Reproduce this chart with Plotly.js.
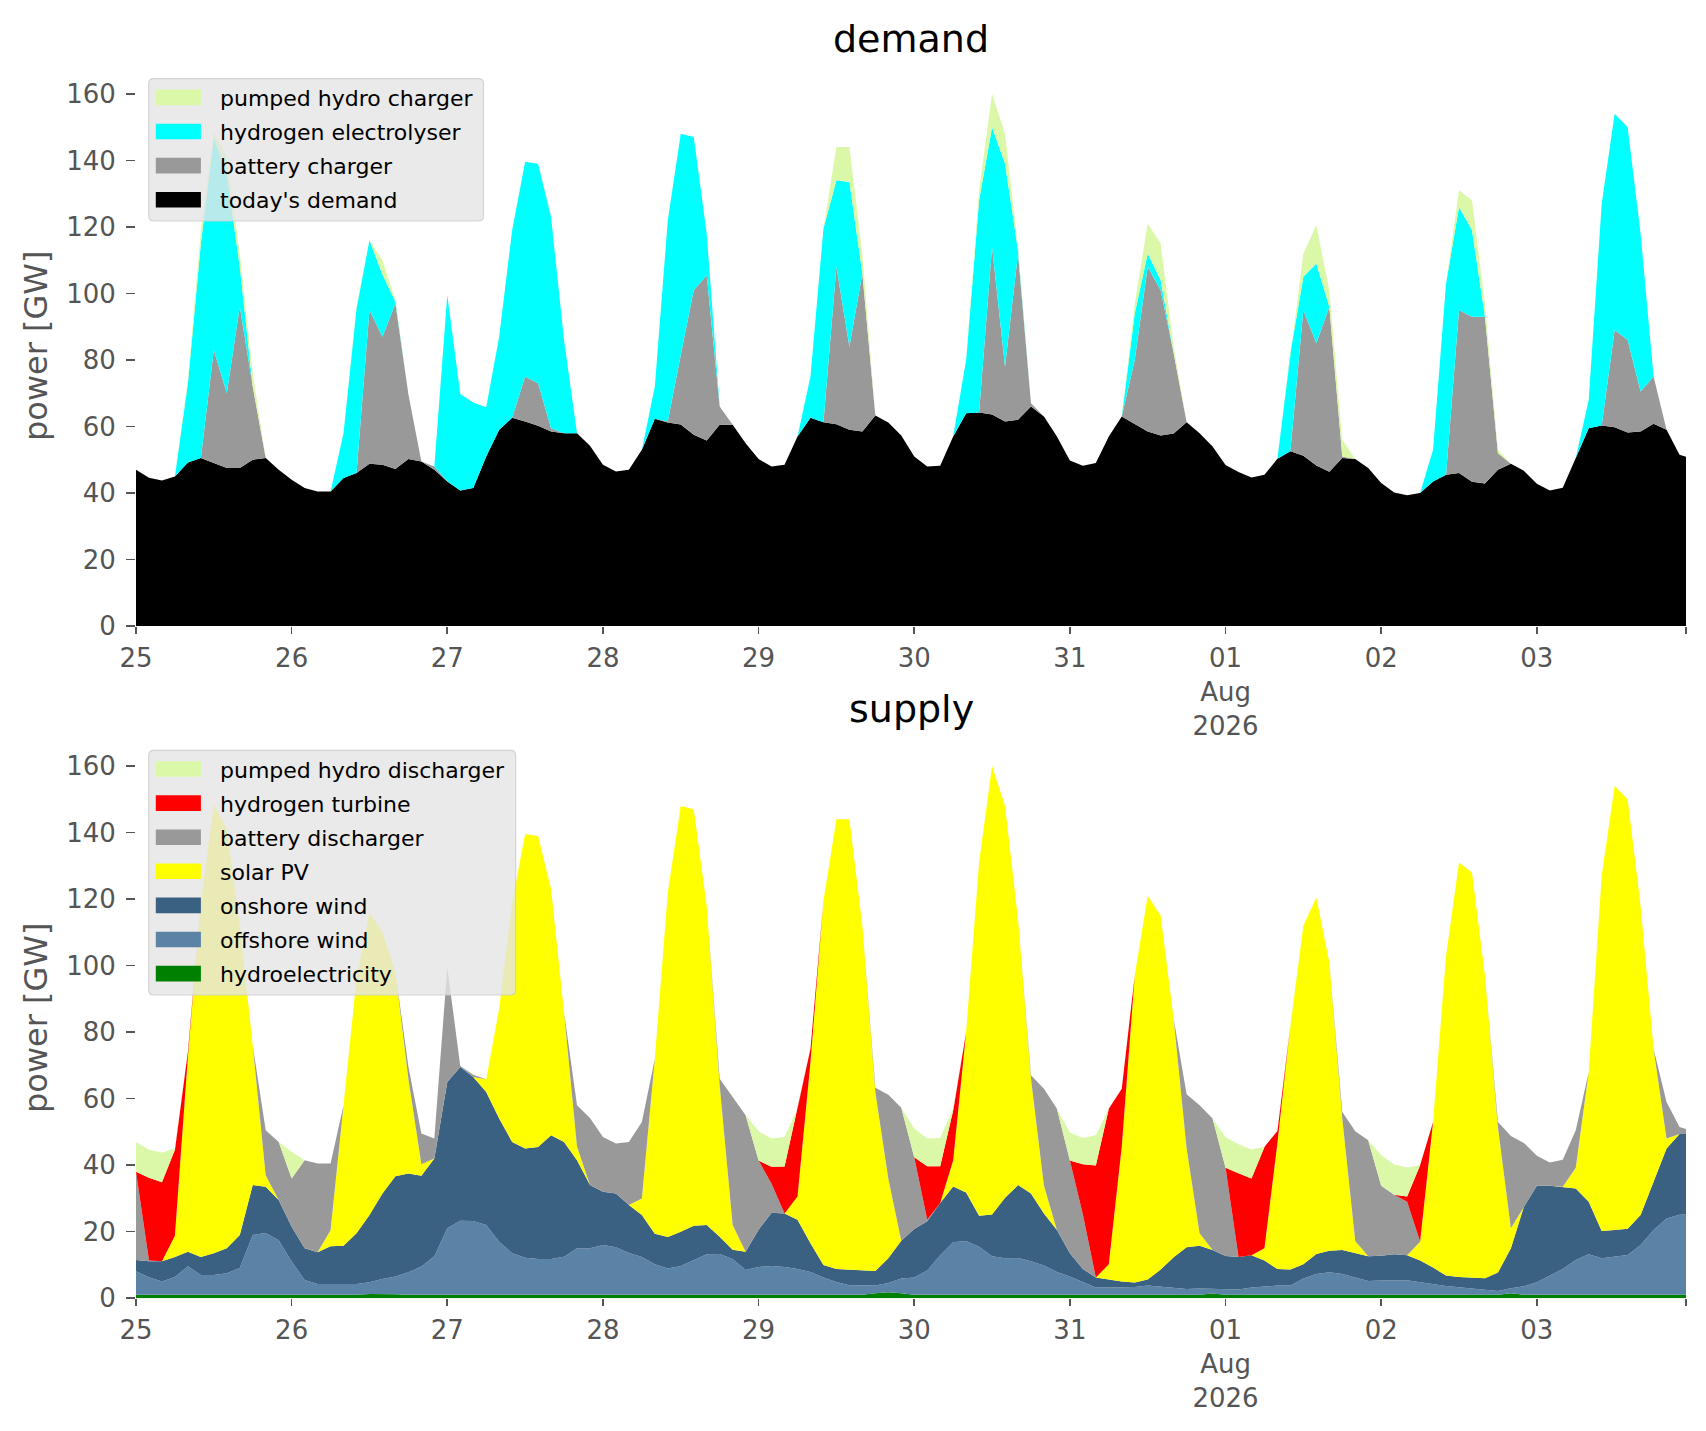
<!DOCTYPE html>
<html>
<head>
<meta charset="utf-8">
<script src="https://cdn.plot.ly/plotly-3.0.1.min.js"></script>
<style>
html,body{margin:0;padding:0;background:#ffffff;}
#chart{width:1706px;height:1431px;}
</style>
</head>
<body>
<div id="chart"></div>
<script>
// ---------------- data (GW, 2-hourly from 2026-07-25 00:00, last point 2026-08-03 23:00) ----------------
const hours = [0,2,4,6,8,10,12,14,16,18,20,22,
  24,26,28,30,32,34,36,38,40,42,44,46,
  48,50,52,54,56,58,60,62,64,66,68,70,
  72,74,76,78,80,82,84,86,88,90,92,94,
  96,98,100,102,104,106,108,110,112,114,116,118,
  120,122,124,126,128,130,132,134,136,138,140,142,
  144,146,148,150,152,154,156,158,160,162,164,166,
  168,170,172,174,176,178,180,182,184,186,188,190,
  192,194,196,198,200,202,204,206,208,210,212,214,
  216,218,220,222,224,226,228,230,232,234,236,238,239];

// demand panel
const todaysDemand = [47,44.6,43.8,45,49.2,50.5,49,47.5,47.5,50,50.5,47,
  44,41.5,40.5,40.5,44.5,46,48.8,48.5,47.2,50.2,49.5,47,
  43.5,40.8,41.5,51,59,62.6,61.5,60.2,58.5,58,58,54.2,
  48.5,46.5,47,53,62.3,61.2,60.6,57.5,55.8,60.5,60.5,55,
  50.2,48,48.5,57,62.6,61.3,60.7,59,58.5,63.3,61.2,57.3,
  51,48,48.2,57,64,64.2,63.6,61.5,62,66,63,57,
  49.8,48.2,49,57,63,60.8,58.5,57.3,57.9,61.3,58,54,
  48.4,46.3,44.7,45.5,50.3,52.6,51.2,48.3,46.4,50.5,50.2,47.5,
  43,40.2,39.3,40,43.5,45.5,46,43.4,42.9,47,48.8,46.7,
  42.8,40.8,41.6,50.5,59.5,60.3,59.8,58.2,58.5,60.8,59,51.5,50.9];
const batteryCharger = [0,0,0,0,0,0,34,22.5,48.5,22,0,0,
  0,0,0,0,0,0,46.2,38.5,49.8,19.5,0,1,
  0,0,0,0,0,0,13.5,12.8,1,0,0,0,
  0,0,0,0,0,0.3,20.9,43.5,49.7,5.5,0,0,
  0,0,0,0,0,0,47.3,25,47.5,0,0,0,
  0,0,0,0,0,0,50.4,16.5,50,1,0,0,
  0,0,0,0,0,19.2,49.5,43.7,24.1,0,0,0,
  0,0,0,0,0,0,43.8,36.7,49.6,0.5,0,0,
  0,0,0,0,0,0,49,49.6,50.1,5,0,0,
  0,0,0,0,0,0,29.2,27.8,12,14.2,0,0,0];
const hydrogenElectrolyser = [0,0,0,0,23.8,64.5,64,66,12,0,0,0,
  0,0,0,0,13.5,49.5,21,18.7,0.5,0,0,0,
  56,29,25.7,14.8,28,56.4,64.6,66,63.5,28,0,0,
  0,0,0,0,9.7,60.5,66.5,46,12.5,0,0,0,
  0,0,0,0,12.4,58.2,26,49.5,0,0,0,0,
  0,0,0,0,16,63.8,36,61,1,0,0,0,
  0,0,0,0,0,14,4,3,0,0,0,0,
  0,0,0,0,0,29.4,10,24,0,0,0,0,
  0,0,0,0,9.5,57.5,31,26,0,0,0,0,
  0,0,0,0,8.5,66.7,65,64,47.5,0,0,0,0];
const pumpedHydroCharger = [0,0,0,0,1,4,1.5,5,4,4,0,0,
  0,0,0,0,0,0.5,0,4.3,0.5,0,0,0,
  0,0,0,0,0,0,0,0,0,0,0,0,
  0,0,0,0,0,0,0,0,0,0,0,0,
  0,0,0,0,0,0,10,10.5,6,0,0,0,
  0,0,0,0,0,3,10,9,1,0,0,0,
  0,0,0,0,0,3,9,11,2,0,0,0,
  0,0,0,0,0,0,7,11.5,5,5,0,0,
  0,0,0,0,0,0,5,9,4,1,0,0,
  0,0,0,0,0,0,0,0,0,0,0,0,0];

// supply panel
const hydroelectricity = [1,1,1,1,1,1.2,1.2,1.2,1,1,1,1,
  1,1,1,1,1,1,1.3,1.3,1.2,1,1,1,
  1,1,1,1,1,1,1,1,1,1,1,1,
  1,1,1,1,1,1,1,1,1,1,1,1,
  1,1,1,1,1,1,1,1,1,1.5,1.8,1.5,
  1,1,1,1,1,1,1,1,1,1,1,1,
  1,1,1,1,1,1,1,1,1,1,1,1.4,
  1,1,1,1,1,1,1,1,1,1,1,1,
  1,1,1,1,1,1,1,1,1,1,1.5,1,
  1,1,1,1,1,1,1,1,1,1,1,1,1];
const offshoreWind = [7.1,5.3,4,5.4,8.6,5.8,5.8,6.3,8.1,18,18.6,16.4,
  10,4.5,3.3,3.3,3.3,3.3,3.5,4.5,5.3,6.8,8.5,11.6,
  20,22.3,22.2,21,16,12.5,11.2,10.8,10.8,11.5,14,14,
  15,14.3,12.6,11.4,9.2,7.9,8.7,10.5,12.2,12.3,10.8,7.5,
  8.4,8.7,8.4,7.8,6.9,5.2,3.9,2.9,2.8,2.3,2.8,4.4,
  5.2,7.3,11.9,15.8,16.2,14.5,11.6,11,11.1,10.1,8.8,6.9,
  5.5,3.8,2.2,2.2,2.2,2.4,2.8,2.4,2.1,1.8,1.9,1.4,
  1.7,1.6,2.2,2.6,2.8,2.8,4.9,6.3,6.8,6.3,5.2,4.2,
  4.3,4.4,4.4,3.8,3.2,2.7,2.3,2,1.7,1.2,1.5,2.6,
  3.8,5.7,7.8,10.5,12.2,11,11.4,12,15,19.5,23,24.1,24.2];
const onshoreWind = [3.4,4.8,6.1,6,4.4,5.4,6.5,7.5,9.9,15,13.9,12.1,
  10.5,9.5,9.5,11.3,11.5,15.2,20.2,25.7,30.2,29.7,27.3,29.4,
  44,46.2,43.3,40,37,33.5,32.8,33.7,37.2,34.5,26.5,19,
  16,16.2,14.4,12.6,9.2,9.5,10.3,10.3,8.8,5.2,2.8,5.5,
  11.2,16,16.1,14.8,8.6,3.8,3.9,4.7,4.5,4.4,7.4,11.4,
  14.6,14.8,15.7,16.8,14.6,9.3,12.6,18.2,21.9,20.4,15.7,12.6,
  7,4,3,2.4,1.8,1.3,1.8,5.2,9.2,12.5,12.9,11.7,
  10,9.8,9.7,7.7,5,4.8,4.3,6,6.5,7.2,7.3,7.4,
  7.5,7.8,7.5,6.5,5,3.1,3.1,3.1,3.3,5.5,12,23.9,
  29,27.1,24.7,21.5,15.8,8.2,8.1,7.9,9,14.7,21,24.3,24.2];
const solarPV = [0,0,0,6.4,58.5,106.6,135,126,93,42,3.5,0,
  0,0,0,4.8,42.2,76.5,91,78.5,61.3,28.5,3.5,0,
  0,0,0,3.8,33,72,94.6,93.5,74,39,4.1,0,
  0,0,0,5,52.6,103.6,128,125.2,96,45.5,7.4,0,
  0,0,0,7,54.5,109.5,135.2,135.4,103.7,53.8,24,0,
  0,0,0,7.8,48.2,106.2,134.8,117.8,80,34.5,8.3,0,
  0,0,0,4.6,40.6,92.3,115.4,106.4,71.7,29.7,3.7,0,
  0,0,0,3.7,37.9,73.4,101.8,107.2,86.7,39.5,3.7,0,
  0,0,0,5.7,43.8,96.2,124.6,121.9,91,43.8,6,0,
  0,0,0,6.2,39,106.8,133.5,129.1,93,39.8,3,0,0];
const batteryDischarger = [26.5,0.2,0,0,0,0,0,0,0,0,13.5,17.5,
  14.5,26.5,26.7,20.1,0,0,0,0,0,3.7,9.2,6,
  34.5,0.3,0.7,0,0,0,0,0,0,0,12.4,20.2,
  16.5,15,19,23,0,0,0,0,0,2,38.5,41,
  20.8,8.7,0,0,0,0,0,0,0,1.3,25.2,40,
  21.6,0.5,0,0,0,0,0,0,0,1,29.2,36.5,
  27.9,16.4,0,0,0,0,0,0,0,16.3,38.5,39.5,
  26.5,0,0,0,0,0,0,0,0,2,33,34.9,
  21,17.9,16.1,0,0,0,0,0,0,1.5,27.8,19.2,
  9,7,8.1,11.3,0,0,0,0,0,0,11,2.1,1.5];
const hydrogenTurbine = [0,24.9,23.8,25.8,1.5,0,0,0,0,0,0,0,
  0,0,0,0,0,0,0,0,0,0,0,0,
  0,0,0,0,0,0,0,0,0,0,0,0,
  0,0,0,0,0,0,0,0,0,0,0,0,
  0,5.1,14.1,26.4,4,0,0,0,0,0,0,0,
  0,16.1,11.1,15,0,0,0,0,0,0,0,0,
  0,15.1,33.7,46.8,17.4,0,0,0,0,0,0,0,
  0,25.2,23.1,30.5,3.6,0,0,0,0,0,0,0,
  0,0,1.6,23,0,0,0,0,0,0,0,0,
  0,0,0,0,0,0,0,0,0,0,0,0,0];
const pumpedHydroDischarger = [9,8.4,8.9,0.4,0,0,0,0,0,0,0,0,
  8,0,0,0,0,0,0,0,0,0,0,0,
  0,0,0,0,0,0,0,0,0,0,0,0,
  0,0,0,0,0,0,0,0,0,0,0,0,
  8.8,8.5,8.9,0,0,0,0,0,0,0,0,0,
  8.6,8.3,8.5,0.6,0,0,0,0,0,0,0,0,
  8.4,7.9,9.1,0,0,0,0,0,0,0,0,0,
  9.2,8.7,8.7,0,0,0,0,0,0,0,0,0,
  9.2,9.1,8.7,0,0,0,0,0,0,0,0,0,
  0,0,0,0,0,0,0,0,0,0,0,0,0];

// axis tick labels
const tickDates = ['2026-07-25','2026-07-26','2026-07-27','2026-07-28','2026-07-29','2026-07-30',
  '2026-07-31','2026-08-01','2026-08-02','2026-08-03','2026-08-03 23:00'];
const tickLabels = ['25','26','27','28','29','30','31','01<br>Aug<br>2026','02','03',''];

// series names and colours (stack order, bottom to top)
const demandNames = ["today's demand", 'battery charger', 'hydrogen electrolyser', 'pumped hydro charger'];
const demandColors = ['#000000', '#999999', '#00ffff', '#dbf8a8'];
const supplyNames = ['hydroelectricity', 'offshore wind', 'onshore wind', 'solar PV',
  'battery discharger', 'hydrogen turbine', 'pumped hydro discharger'];
const supplyColors = ['#008000', '#5b83a6', '#3b6182', '#ffff00', '#999999', '#ff0000', '#dbf8a8'];

// ---------------- build ----------------
const start = Date.UTC(2026, 6, 25, 0, 0, 0);
function stamp(h) {
  return new Date(start + h * 3600000).toISOString().slice(0, 16).replace('T', ' ');
}
const times = hours.map(stamp);

const demandSeries = [todaysDemand, batteryCharger, hydrogenElectrolyser, pumpedHydroCharger];
const supplySeries = [hydroelectricity, offshoreWind, onshoreWind, solarPV,
  batteryDischarger, hydrogenTurbine, pumpedHydroDischarger];

const traces = [];
demandSeries.forEach((vals, i) => {
  traces.push({
    type: 'scatter', mode: 'lines', x: times, y: vals, name: demandNames[i],
    stackgroup: 'demand', xaxis: 'x', yaxis: 'y',
    line: {width: 0, color: demandColors[i]}, fillcolor: demandColors[i],
    hoverinfo: 'skip', showlegend: false
  });
});
supplySeries.forEach((vals, i) => {
  traces.push({
    type: 'scatter', mode: 'lines', x: times, y: vals, name: supplyNames[i],
    stackgroup: 'supply', xaxis: 'x2', yaxis: 'y2',
    line: {width: 0, color: supplyColors[i]}, fillcolor: supplyColors[i],
    hoverinfo: 'skip', showlegend: false
  });
});

// pixel helpers (figure is 1706 x 1431, plot area x 136..1686)
const W = 1706, H = 1431, L = 136, R = 20, PW = W - L - R;
const px = v => (v - L) / PW;
const py = v => 1 - v / H;

const tickFont = {family: 'DejaVu Sans', size: 26, color: '#555555'};
function xAxis(anchor) {
  return {
    anchor: anchor, domain: [0, 1], type: 'date',
    range: ['2026-07-25 00:00', '2026-08-03 23:00'],
    tickmode: 'array', tickvals: tickDates, ticktext: tickLabels,
    ticks: 'outside', ticklen: 7, tickwidth: 1.6, tickcolor: '#555555',
    showgrid: false, zeroline: false, showline: false,
    tickfont: tickFont, ticklabelstandoff: 2, fixedrange: true
  };
}
function yAxis(anchor, domain) {
  return {
    anchor: anchor, domain: domain, range: [0, 168.5],
    tickmode: 'linear', tick0: 0, dtick: 20,
    ticks: 'outside', ticklen: 9, tickwidth: 1.6, tickcolor: '#555555',
    showgrid: false, zeroline: false, showline: false,
    tickfont: tickFont, ticklabelstandoff: 5, fixedrange: true
  };
}

const shapes = [];
const annotations = [];

function roundedBox(x0, y0, x1, y1, r) {
  const X0 = px(x0), X1 = px(x1), Y0 = py(y0), Y1 = py(y1);
  const rx = r / PW, ry = r / H;
  return 'M' + (X0 + rx) + ',' + Y0 + ' L' + (X1 - rx) + ',' + Y0 +
    ' Q' + X1 + ',' + Y0 + ' ' + X1 + ',' + (Y0 - ry) +
    ' L' + X1 + ',' + (Y1 + ry) + ' Q' + X1 + ',' + Y1 + ' ' + (X1 - rx) + ',' + Y1 +
    ' L' + (X0 + rx) + ',' + Y1 + ' Q' + X0 + ',' + Y1 + ' ' + X0 + ',' + (Y1 + ry) +
    ' L' + X0 + ',' + (Y0 - ry) + ' Q' + X0 + ',' + Y0 + ' ' + (X0 + rx) + ',' + Y0 + ' Z';
}

function addLegend(names, colors, box, firstRow) {
  shapes.push({
    type: 'path', xref: 'paper', yref: 'paper',
    path: roundedBox(box[0], box[1], box[2], box[3], 5),
    fillcolor: 'rgba(229,229,229,0.8)', line: {color: 'rgba(204,204,204,0.8)', width: 1.2},
    layer: 'above'
  });
  // legend lists the stack top first
  const n = names.length;
  for (let k = 0; k < n; k++) {
    const idx = n - 1 - k;
    const cy = firstRow + k * 34.1;
    shapes.push({
      type: 'rect', xref: 'paper', yref: 'paper',
      x0: px(155.8), x1: px(200.9), y0: py(cy - 7.8), y1: py(cy + 7.8),
      fillcolor: colors[idx], line: {width: 0}, layer: 'above'
    });
    annotations.push({
      xref: 'paper', yref: 'paper', x: px(218), y: py(cy + 1), xanchor: 'left', yanchor: 'middle',
      text: names[idx], showarrow: false,
      font: {family: 'DejaVu Sans', size: 22, color: '#000000'}
    });
  }
}

addLegend(demandNames, demandColors, [148.7, 78.6, 483.5, 221], 97.4);
addLegend(supplyNames, supplyColors, [148.7, 750.3, 515.6, 995], 769);

// titles
annotations.push({xref: 'paper', yref: 'paper', x: 0.5, y: py(39), xanchor: 'center', yanchor: 'middle',
  text: 'demand', showarrow: false, font: {family: 'DejaVu Sans', size: 38, color: '#000000'}});
annotations.push({xref: 'paper', yref: 'paper', x: 0.5, y: py(709), xanchor: 'center', yanchor: 'middle',
  text: 'supply', showarrow: false, font: {family: 'DejaVu Sans', size: 38, color: '#000000'}});
// y-axis labels
annotations.push({xref: 'paper', yref: 'paper', x: px(36), y: py(346), xanchor: 'center', yanchor: 'middle',
  text: 'power [GW]', textangle: -90, showarrow: false, font: {family: 'DejaVu Sans', size: 32, color: '#555555'}});
annotations.push({xref: 'paper', yref: 'paper', x: px(36), y: py(1018), xanchor: 'center', yanchor: 'middle',
  text: 'power [GW]', textangle: -90, showarrow: false, font: {family: 'DejaVu Sans', size: 32, color: '#555555'}});

const layout = {
  width: W, height: H,
  margin: {l: L, r: R, t: 0, b: 0, pad: 0},
  paper_bgcolor: '#ffffff', plot_bgcolor: '#ffffff',
  showlegend: false,
  font: {family: 'DejaVu Sans', color: '#555555'},
  xaxis: xAxis('y'),
  yaxis: yAxis('x', [1 - 626.1 / H, 1 - 65.6 / H]),
  xaxis2: xAxis('y2'),
  yaxis2: yAxis('x2', [1 - 1298.2 / H, 1 - 737.8 / H]),
  shapes: shapes,
  annotations: annotations
};

Plotly.newPlot('chart', traces, layout, {staticPlot: true, displayModeBar: false});
</script>
</body>
</html>
